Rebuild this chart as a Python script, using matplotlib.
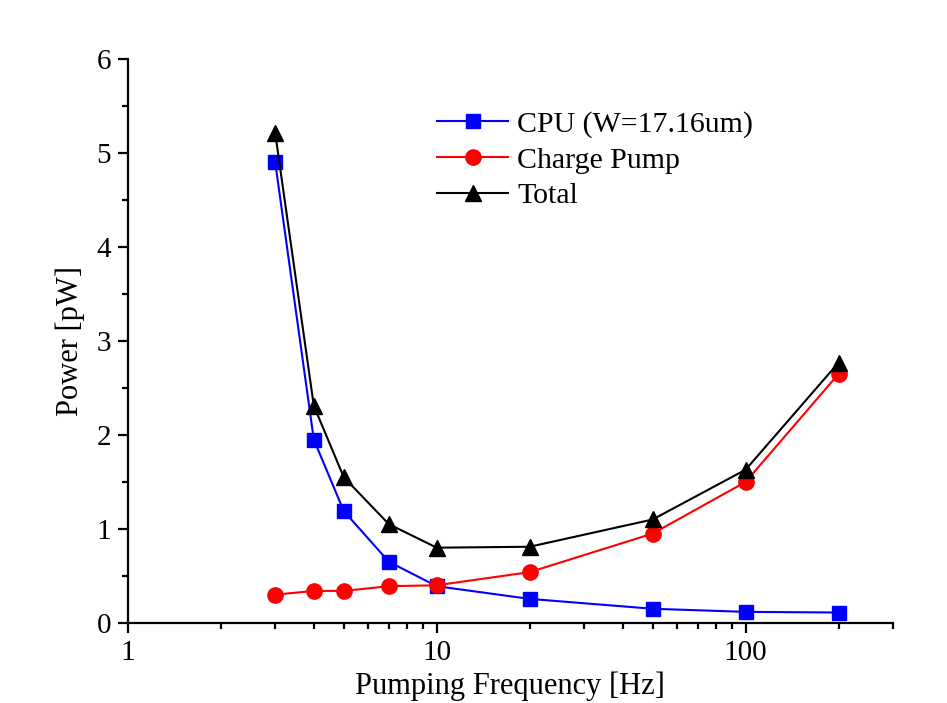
#power vs pumping frequency, log x axis
import numpy as np
import matplotlib.pyplot as plt
from matplotlib.ticker import LogLocator, MultipleLocator, NullFormatter

freq = [3, 4, 5, 7, 10, 20, 50, 100, 200]
cpu_power = [4.90, 1.95, 1.19, 0.65, 0.39, 0.255, 0.15, 0.117, 0.11]
pump_power = [0.30, 0.34, 0.34, 0.39, 0.40, 0.54, 0.95, 1.50, 2.65]
total_power = [5.21, 2.31, 1.55, 1.05, 0.80, 0.81, 1.10, 1.63, 2.77]

plt.rcParams['font.family'] = ['Liberation Serif', 'DejaVu Serif']

fig = plt.figure(figsize=(9.47, 7.03), dpi=100)
ax = fig.add_axes([0.135, 0.114, 0.808, 0.802])

ax.plot(freq, cpu_power, color='blue', marker='s', markersize=10, lw=1.5, label='CPU (W=17.16um)')
ax.plot(freq, pump_power, color='red', marker='o', markersize=11, lw=1.5, label='Charge Pump')
ax.plot(freq, total_power, color='black', marker='^', markersize=12, lw=1.5, label='Total')

ax.set_xscale('log')
ax.set_xlim(1, 300)
ax.set_ylim(0, 6)
ax.xaxis.set_minor_locator(LogLocator(base=10, subs=np.arange(2, 10)))
ax.xaxis.set_minor_formatter(NullFormatter())
ax.set_xticks([1, 10, 100])
ax.set_xticklabels(['1', '10', '100'])
ax.yaxis.set_major_locator(MultipleLocator(1))
ax.yaxis.set_minor_locator(MultipleLocator(0.5))

ax.spines['top'].set_visible(False)
ax.spines['right'].set_visible(False)
for s in ['left', 'bottom']:
    ax.spines[s].set_linewidth(1.6)
ax.tick_params(which='major', direction='out', length=7, width=1.6, labelsize=21, pad=5)
ax.tick_params(which='minor', direction='out', length=4, width=1.6)

ax.set_xlabel('Pumping Frequency [Hz]', fontsize=22, labelpad=4)
ax.set_ylabel('Power [pW]', fontsize=22, labelpad=8)

ax.legend(loc='upper left', bbox_to_anchor=(0.388, 0.93), frameon=False, fontsize=21.5,
          handlelength=2.4, handletextpad=0.3, labelspacing=0.3, borderaxespad=0)

plt.savefig('out.png', dpi=100)
